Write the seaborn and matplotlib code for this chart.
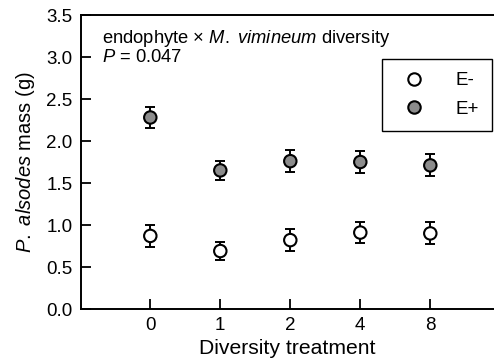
import matplotlib
matplotlib.use("Agg")
import matplotlib.pyplot as plt
import seaborn as sns
import numpy as np
import pandas as pd

categories = ["0", "1", "2", "4", "8"]
e_minus = [0.87, 0.69, 0.82, 0.91, 0.90]
e_minus_se = [0.13, 0.11, 0.13, 0.13, 0.13]
e_plus = [2.28, 1.65, 1.76, 1.75, 1.71]
e_plus_se = [0.13, 0.11, 0.13, 0.13, 0.13]
groups = ["E-", "E+"]

sns.set_theme(style="ticks")
plt.rcParams['font.family'] = ['Liberation Sans', 'DejaVu Sans']
plt.rcParams['mathtext.fontset'] = 'custom'
plt.rcParams['mathtext.rm'] = 'Liberation Sans'
plt.rcParams['mathtext.it'] = 'Liberation Sans:italic'
plt.rcParams['text.color'] = 'black'
plt.rcParams['axes.labelcolor'] = 'black'

df = pd.DataFrame({
    "treatment": categories * 2,
    "mass": e_minus + e_plus,
    "se": e_minus_se + e_plus_se,
    "group": [groups[0]] * len(categories) + [groups[1]] * len(categories),
})

fig = plt.figure(figsize=(4.94, 3.64), dpi=100)
ax = fig.add_axes([81/494, 1 - 309/364, 1 - 81/494, (309-15)/364])

pos = {c: i for i, c in enumerate(categories)}
for g in groups:
    sub = df[df.group == g]
    ax.errorbar([pos[c] for c in sub.treatment], sub.mass, yerr=sub.se,
                fmt="none", ecolor="black", elinewidth=1.4, capsize=3.5,
                capthick=1.4, zorder=2)

sns.scatterplot(data=df, x="treatment", y="mass", hue="group",
                palette={"E-": "white", "E+": "#8c8c8c"},
                edgecolor="black", linewidth=1.5, s=80, ax=ax, zorder=3,
                legend=True)

ax.set_xlim(-0.99, 4.91)
ax.set_ylim(0, 3.5)
ax.set_yticks(np.arange(0, 3.51, 0.5))
ax.set_yticklabels([f"{v:.1f}" for v in np.arange(0, 3.51, 0.5)])
ax.set_xticks(range(len(categories)))
ax.set_xticklabels(categories)
ax.tick_params(direction="in", length=7, width=1.3, labelsize=13.5, colors="black")
ax.tick_params(axis="x", pad=6)
ax.tick_params(axis="y", pad=6)
for s in ["left", "top", "bottom"]:
    ax.spines[s].set_linewidth(1.4)
    ax.spines[s].set_color("black")
ax.spines["right"].set_visible(False)

ax.set_xlabel("Diversity treatment", fontsize=15.2, labelpad=3)
ax.set_ylabel(r"$\it{P.\ alsodes}$ mass (g)", fontsize=14.5, labelpad=7)

ax.text(0.05, 0.955, r"endophyte $\times$ $\it{M.\ vimineum}$ diversity",
        transform=ax.transAxes, fontsize=13.2, va="top", ha="left")
ax.text(0.05, 0.885, r"$\it{P}$ = 0.047",
        transform=ax.transAxes, fontsize=13.2, va="top", ha="left")

h, l = ax.get_legend_handles_labels()
for hh in h:
    try:
        hh.set_sizes([60])
    except Exception:
        pass
leg = ax.legend(h, l, loc="upper right", bbox_to_anchor=(0.995, 0.85),
                fontsize=13.5, frameon=True, fancybox=False, edgecolor="black",
                handletextpad=1.2, borderpad=0.7, labelspacing=0.6,
                borderaxespad=0)
leg.get_frame().set_linewidth(1.0)
leg.get_frame().set_alpha(1)

fig.savefig("out.png", dpi=100)
